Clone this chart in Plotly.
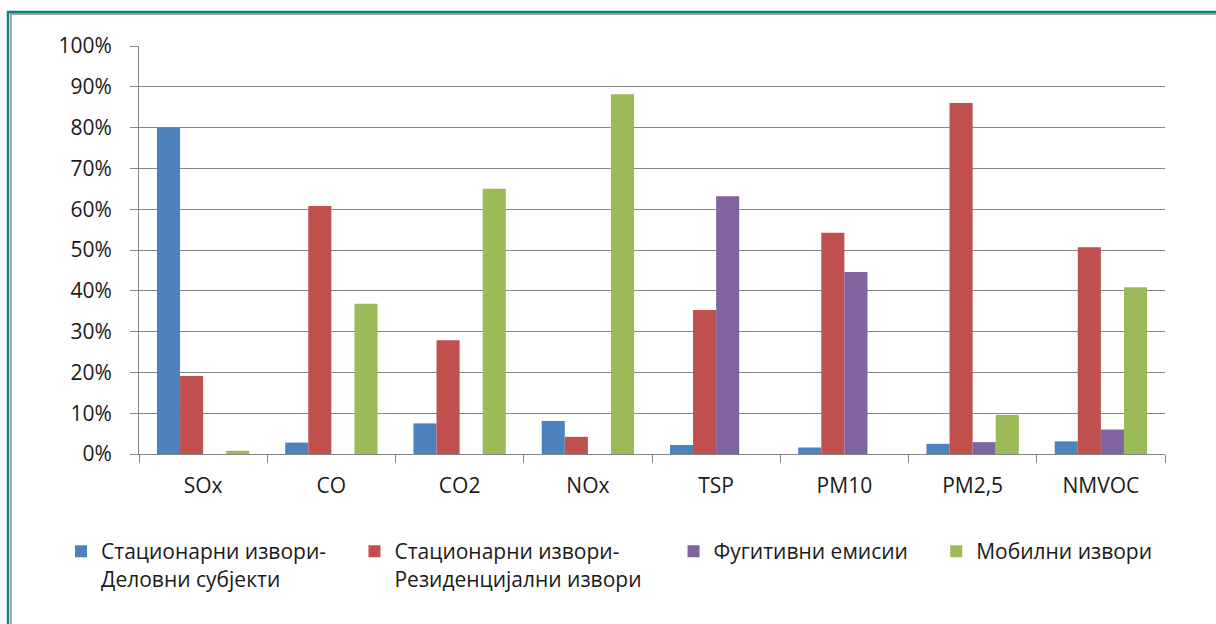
import plotly.graph_objects as go

# Pollutant categories on the x axis
categories = ["SOx", "CO", "CO2", "NOx", "TSP", "PM10", "PM2,5", "NMVOC"]

# Share of each source group in total emissions (%)
business = [80.0, 2.8, 7.5, 8.1, 2.2, 1.6, 2.5, 3.1]
residential = [19.1, 60.8, 27.9, 4.2, 35.3, 54.2, 86.0, 50.7]
fugitive = [0.0, 0.0, 0.0, 0.0, 63.2, 44.6, 2.9, 6.0]
mobile = [0.8, 36.8, 65.0, 88.2, 0.0, 0.0, 9.6, 40.9]

series_names = [
    "Стационарни извори-<br>Деловни субјекти",
    "Стационарни извори-<br>Резиденцијални извори",
    "Фугитивни емисии",
    "Мобилни извори",
]
series_values = [business, residential, fugitive, mobile]
series_colors = ["#4F81BD", "#C0504D", "#8064A2", "#9BBB59"]
legend_ids = ["legend", "legend2", "legend3", "legend4"]
legend_x = [-0.076, 0.210, 0.521, 0.777]

y_ticks = list(range(0, 101, 10))
y_tick_text = [f"{v}%" for v in y_ticks]

FONT = "Open Sans"
TEXT = "#1a1a1a"

fig = go.Figure()
for name, vals, color, lid in zip(series_names, series_values, series_colors, legend_ids):
    fig.add_trace(go.Bar(
        x=categories, y=vals, name=name, legend=lid,
        marker=dict(color=color, line=dict(width=0)),
    ))

layout_legends = {}
for lid, lx in zip(legend_ids, legend_x):
    layout_legends[lid] = dict(
        x=lx, xanchor="left", y=-0.189, yanchor="top",
        orientation="h", valign="top",
        font=dict(family=FONT, size=21, color=TEXT),
        bgcolor="rgba(0,0,0,0)", itemclick=False,
    )

fig.update_layout(
    width=1216, height=624,
    margin=dict(l=139, r=51, t=46, b=170),
    paper_bgcolor="white", plot_bgcolor="white",
    barmode="group", bargap=0.28, bargroupgap=0,
    font=dict(family=FONT, color=TEXT),
    showlegend=True,
    **layout_legends,
    xaxis=dict(
        type="category", tickson="boundaries",
        ticks="outside", ticklen=8, tickcolor="#868686",
        showline=True, linecolor="#868686", linewidth=1,
        showgrid=False,
        tickfont=dict(family=FONT, size=21, color=TEXT),
        ticklabelstandoff=13,
    ),
    yaxis=dict(
        range=[0, 100], tickvals=y_ticks, ticktext=y_tick_text,
        ticks="outside", ticklen=8, tickcolor="#868686",
        showline=True, linecolor="#868686", linewidth=1,
        showgrid=True, gridcolor="#868686", gridwidth=1,
        zeroline=False,
        tickfont=dict(family=FONT, size=21, color=TEXT),
        ticklabelstandoff=14,
    ),
    shapes=[
        # outer frame: grey inner edge, teal outer edge
        dict(type="rect", xref="paper", yref="paper",
             x0=(11 - 139) / 1026, x1=(1260 - 139) / 1026,
             y0=(454 - 660) / 408, y1=(454 - 14) / 408,
             line=dict(color="#A6A6A6", width=2), layer="below"),
        dict(type="rect", xref="paper", yref="paper",
             x0=(8 - 139) / 1026, x1=(1260 - 139) / 1026,
             y0=(454 - 660) / 408, y1=(454 - 12) / 408,
             line=dict(color="#0F7F7F", width=2.5), layer="below"),
    ],
)

fig.write_html("out.html")
